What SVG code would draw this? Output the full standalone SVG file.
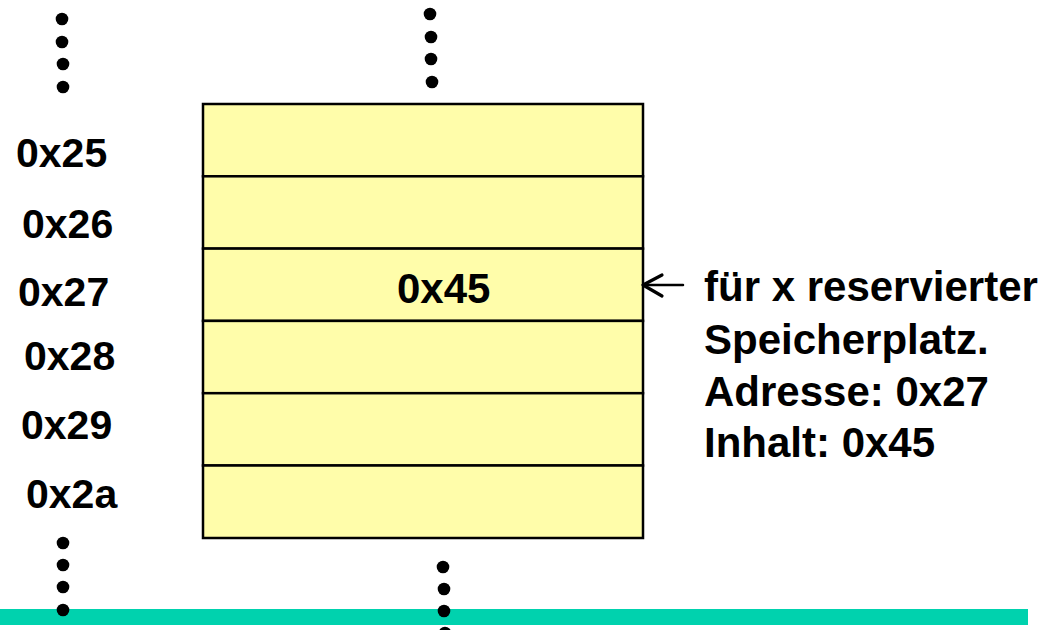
<svg xmlns="http://www.w3.org/2000/svg" width="1064" height="630" viewBox="0 0 1064 630">
<style>
.t{font-family:"Liberation Sans",Arial,Helvetica,sans-serif;font-weight:bold;fill:#000}
.lbl{font-size:41px}
.cap{font-size:42px}
.cell{fill:#FFFDAA;stroke:#000;stroke-width:2.5}
.dot{fill:#000}
</style>
<rect width="1064" height="630" fill="#fff"/>
<rect id="baseline-bar" x="0" y="609" width="1028" height="16" fill="#00D2AE"/>
<g id="memory">
<rect class="cell" x="203" y="104" width="440" height="72.3"/>
<rect class="cell" x="203" y="176.3" width="440" height="72.3"/>
<rect class="cell" x="203" y="248.6" width="440" height="72.3"/>
<rect class="cell" x="203" y="320.9" width="440" height="72.3"/>
<rect class="cell" x="203" y="393.2" width="440" height="72.3"/>
<rect class="cell" x="203" y="465.5" width="440" height="72.5"/>
<text class="t cap" x="397" y="303">0x45</text>
</g>
<g id="addresses">
<text class="t lbl" x="16" y="167">0x25</text>
<text class="t lbl" x="22" y="238">0x26</text>
<text class="t lbl" x="18" y="306">0x27</text>
<text class="t lbl" x="24" y="370">0x28</text>
<text class="t lbl" x="21" y="439">0x29</text>
<text class="t lbl" x="26" y="508">0x2a</text>
</g>
<g id="dots">
<circle class="dot" cx="62" cy="19" r="6.3"/>
<circle class="dot" cx="62" cy="42" r="6.3"/>
<circle class="dot" cx="63" cy="64" r="6.3"/>
<circle class="dot" cx="63" cy="87" r="6.3"/>
<circle class="dot" cx="430" cy="14" r="6.3"/>
<circle class="dot" cx="431" cy="37" r="6.3"/>
<circle class="dot" cx="431" cy="59" r="6.3"/>
<circle class="dot" cx="432" cy="82" r="6.3"/>
<circle class="dot" cx="63" cy="543" r="6.3"/>
<circle class="dot" cx="63" cy="565" r="6.3"/>
<circle class="dot" cx="63" cy="587" r="6.3"/>
<circle class="dot" cx="63" cy="610" r="6.3"/>
<circle class="dot" cx="443" cy="567" r="6.3"/>
<circle class="dot" cx="444" cy="589" r="6.3"/>
<circle class="dot" cx="444" cy="611" r="6.3"/>
<circle class="dot" cx="445" cy="633" r="6.3"/>
</g>
<g id="connectors" fill="none" stroke="#000" stroke-linecap="round" stroke-linejoin="round">
<line x1="643" y1="285" x2="683" y2="285" stroke-width="2.5"/>
<polyline points="662,275 643,285 662,296" stroke-width="3.2"/>
</g>
<g id="caption">
<text class="t cap" x="704" y="301">für x reservierter</text>
<text class="t cap" x="704" y="354">Speicherplatz.</text>
<text class="t cap" x="704" y="406">Adresse: 0x27</text>
<text class="t cap" x="704" y="457">Inhalt: 0x45</text>
</g>
</svg>
